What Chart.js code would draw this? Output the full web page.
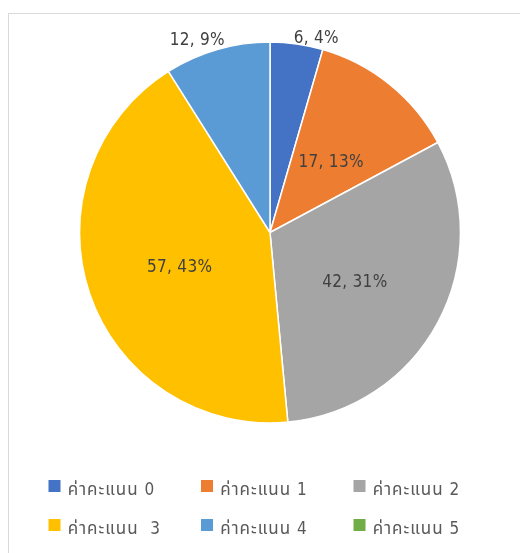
<!DOCTYPE html>
<html>
<head>
<meta charset="utf-8">
<script src="https://cdn.jsdelivr.net/npm/chart.js@4/dist/chart.umd.min.js"></script>
<style>
    html, body { margin: 0; padding: 0; background: #fff; overflow: hidden; }
    #marco { position: absolute; left: 8px; top: 13px; width: 700px; height: 700px;
             border-left: 1px solid #d9d9d9; border-top: 1px solid #d9d9d9; }
    #graficaPastel { position: absolute; left: 0; top: 0; }
</style>
</head>
<body>
<div id="marco"></div>
<canvas id="graficaPastel" width="520" height="553"></canvas>
<script>
const categorias = ["ค่าคะแนน 0", "ค่าคะแนน 1", "ค่าคะแนน 2", "ค่าคะแนน  3", "ค่าคะแนน 4", "ค่าคะแนน 5"];
const valores = [6, 17, 42, 57, 12, 0];
const colores = ["#4472C4", "#ED7D31", "#A5A5A5", "#FFC000", "#5B9BD5", "#70AD47"];

// posicion de las etiquetas (tipo "mejor ajuste" de Excel)
const radioEtiqueta = [1.051, 0.491, 0.514, 0.507, 1.084, 0];
const giroEtiqueta = [5.3, 1.85, 1.7, -1.8, -4.5, 0];

const fuente = "Tahoma, 'DejaVu Sans Condensed', 'Noto Sans Thai', sans-serif";

addEventListener("load", inicializarGrafica, false);

function inicializarGrafica() {
    let ctx = document.getElementById("graficaPastel").getContext("2d");
    new Chart(ctx, {
        type: "pie",
        data: {
            labels: categorias,
            datasets: [{
                data: valores,
                backgroundColor: colores,
                borderColor: "#ffffff",
                borderWidth: 1.5
            }]
        },
        options: {
            responsive: false,
            animation: false,
            layout: { padding: { left: 78.8, right: 58.8, top: 41.3, bottom: 129.3 } },
            plugins: {
                legend: { display: false },
                tooltip: { enabled: false }
            }
        },
        plugins: [etiquetasDatos, leyendaRejilla]
    });
}

const etiquetasDatos = {
    id: "etiquetasDatos",
    afterDatasetsDraw(chart) {
        let ctx = chart.ctx;
        let total = valores.reduce((a, b) => a + b, 0);
        let arcos = chart.getDatasetMeta(0).data;
        ctx.save();
        ctx.font = "17px " + fuente;
        ctx.letterSpacing = "0.3px";
        ctx.fillStyle = "#404040";
        ctx.textAlign = "center";
        ctx.textBaseline = "middle";
        arcos.forEach((arco, i) => {
            if (!valores[i]) return;
            let p = arco.getProps(["x", "y", "startAngle", "endAngle", "outerRadius"], true);
            let ang = (p.startAngle + p.endAngle) / 2 + giroEtiqueta[i] * Math.PI / 180;
            let r = p.outerRadius * radioEtiqueta[i];
            let texto = valores[i] + ", " + Math.round(valores[i] / total * 100) + "%";
            ctx.fillText(texto, p.x + Math.cos(ang) * r, p.y + Math.sin(ang) * r + 1);
        });
        ctx.restore();
    }
};

const leyendaRejilla = {
    id: "leyendaRejilla",
    afterDraw(chart) {
        let ctx = chart.ctx;
        ctx.save();
        ctx.font = "17px " + fuente;
        ctx.letterSpacing = "1px";
        ctx.textBaseline = "middle";
        ctx.textAlign = "left";
        categorias.forEach((cat, i) => {
            let col = i % 3;
            let fila = Math.floor(i / 3);
            let x = 48.5 + col * 152.5;
            let y = 486 + fila * 39;
            ctx.fillStyle = colores[i];
            ctx.fillRect(x, y - 6, 12, 12);
            ctx.fillStyle = "#595959";
            ctx.fillText(cat, x + 19.2, y + 4.5);
        });
        ctx.restore();
    }
};
</script>
</body>
</html>
